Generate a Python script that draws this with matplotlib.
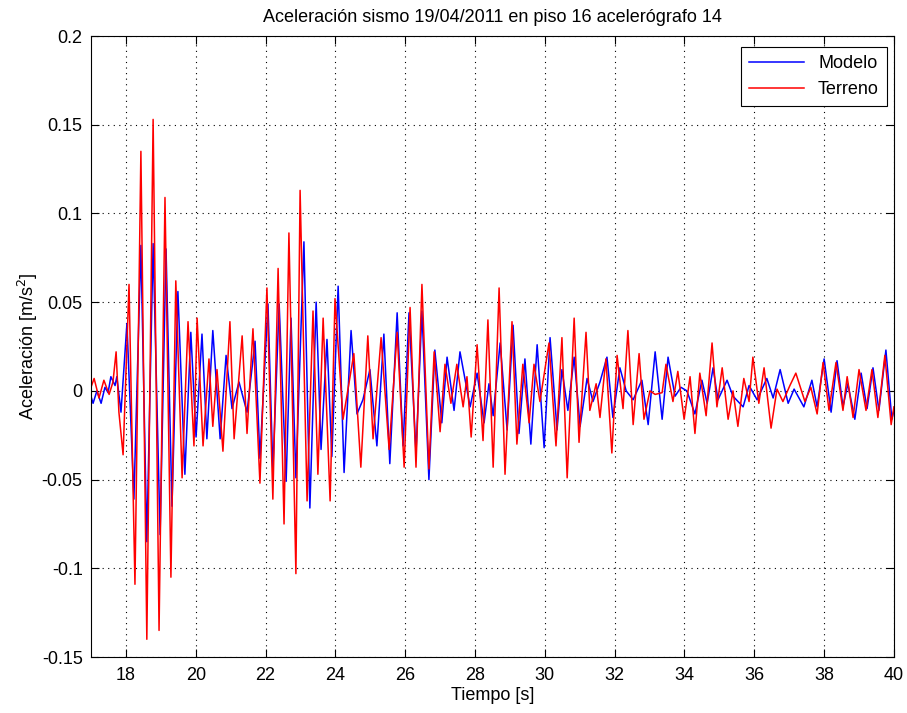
# Aceleración sismo 19/04/2011 - piso 16, acelerógrafo 14 (modelo vs terreno)

import matplotlib
matplotlib.use("Agg")
import matplotlib.pyplot as plt

# ---- data (peaks / troughs of each record) ----
t_modelo = [
    17.00, 17.06, 17.17, 17.29, 17.40, 17.49, 17.57, 17.69, 17.74, 17.86,
    18.03, 18.23, 18.43, 18.60, 18.78, 18.98, 19.15, 19.32, 19.49, 19.69,
    19.86, 20.01, 20.18, 20.32, 20.49, 20.70, 20.87, 21.04, 21.24, 21.47,
    21.70, 21.84, 22.07, 22.21, 22.39, 22.59, 22.73, 22.87, 23.10, 23.27,
    23.45, 23.59, 23.76, 23.90, 24.08, 24.25, 24.45, 24.62, 24.79, 24.99,
    25.19, 25.39, 25.56, 25.77, 25.94, 26.11, 26.31, 26.48, 26.68, 26.85,
    27.05, 27.20, 27.40, 27.57, 27.86, 28.06, 28.26, 28.40, 28.52, 28.72,
    28.92, 29.09, 29.26, 29.43, 29.60, 29.78, 29.98, 30.15, 30.35, 30.49,
    30.66, 30.84, 31.01, 31.21, 31.38, 31.58, 31.78, 31.95, 32.15, 32.33,
    32.53, 32.78, 32.96, 33.16, 33.36, 33.53, 33.73, 33.90, 34.07, 34.30,
    34.50, 34.65, 34.82, 34.96, 35.22, 35.39, 35.68, 35.85, 36.08, 36.36,
    36.54, 36.74, 36.97, 37.14, 37.28, 37.42, 37.65, 37.80, 38.00, 38.20,
    38.37, 38.54, 38.68, 38.88, 39.06, 39.23, 39.40, 39.57, 39.77, 39.94,
    40.00,
]
a_modelo = [
    -0.003, -0.007, 0.000, -0.007, 0.002, -0.001, 0.008, 0.003, 0.008, -0.012,
    0.038, -0.061, 0.082, -0.085, 0.083, -0.081, 0.080, -0.065, 0.056, -0.047,
    0.033, -0.026, 0.032, -0.027, 0.034, -0.027, 0.020, -0.010, 0.005, -0.012,
    0.028, -0.038, 0.049, -0.045, 0.049, -0.051, 0.041, -0.049, 0.084, -0.066,
    0.050, -0.033, 0.029, -0.037, 0.059, -0.046, 0.034, -0.013, -0.005, 0.012,
    -0.031, 0.032, -0.041, 0.044, -0.031, 0.044, -0.035, 0.045, -0.050, 0.023,
    -0.018, 0.019, -0.011, 0.022, -0.009, 0.010, -0.018, 0.004, -0.014, 0.027,
    -0.022, 0.037, -0.024, 0.018, -0.030, 0.026, -0.032, 0.030, -0.022, 0.012,
    -0.011, 0.019, -0.020, 0.007, -0.006, 0.005, 0.019, -0.015, 0.013, 0.000,
    -0.005, 0.006, -0.019, 0.022, -0.016, 0.019, -0.003, 0.002, 0.000, -0.013,
    0.006, -0.007, 0.013, -0.005, 0.006, -0.003, -0.009, 0.003, -0.005, 0.007,
    -0.004, 0.012, -0.007, 0.001, -0.004, -0.009, 0.006, -0.009, 0.018, -0.012,
    0.017, -0.009, 0.004, -0.016, 0.010, -0.010, 0.013, -0.011, 0.023, -0.016,
    -0.011,
]

t_terreno = [
    17.00, 17.09, 17.23, 17.37, 17.52, 17.63, 17.72, 17.80, 17.92, 18.09,
    18.26, 18.43, 18.60, 18.78, 18.95, 19.12, 19.29, 19.43, 19.61, 19.78,
    19.95, 20.04, 20.21, 20.38, 20.49, 20.61, 20.78, 20.98, 21.10, 21.33,
    21.47, 21.64, 21.84, 22.04, 22.21, 22.36, 22.53, 22.67, 22.87, 22.99,
    23.19, 23.36, 23.50, 23.65, 23.85, 23.99, 24.22, 24.53, 24.73, 24.93,
    25.08, 25.31, 25.54, 25.77, 25.97, 26.14, 26.31, 26.48, 26.68, 26.83,
    27.00, 27.14, 27.31, 27.48, 27.66, 27.77, 27.89, 28.06, 28.23, 28.37,
    28.52, 28.69, 28.86, 29.06, 29.20, 29.37, 29.55, 29.69, 29.86, 30.12,
    30.32, 30.49, 30.64, 30.84, 30.98, 31.18, 31.29, 31.47, 31.58, 31.75,
    31.92, 32.07, 32.24, 32.38, 32.53, 32.70, 32.84, 33.01, 33.16, 33.36,
    33.47, 33.67, 33.81, 33.99, 34.16, 34.30, 34.44, 34.62, 34.79, 34.93,
    35.08, 35.25, 35.39, 35.53, 35.70, 35.85, 35.96, 36.13, 36.28, 36.48,
    36.65, 36.82, 37.02, 37.19, 37.45, 37.62, 37.80, 37.97, 38.14, 38.34,
    38.54, 38.66, 38.83, 39.00, 39.20, 39.37, 39.54, 39.74, 39.92, 40.00,
]
a_terreno = [
    0.002, 0.007, -0.004, 0.006, -0.002, 0.005, 0.022, -0.012, -0.036, 0.060,
    -0.109, 0.135, -0.140, 0.153, -0.135, 0.109, -0.105, 0.062, -0.049, 0.039,
    -0.031, 0.041, -0.031, 0.018, -0.020, 0.012, -0.034, 0.039, -0.027, 0.031,
    -0.024, 0.035, -0.052, 0.058, -0.061, 0.069, -0.075, 0.089, -0.103, 0.113,
    -0.062, 0.045, -0.047, 0.041, -0.062, 0.052, -0.016, 0.021, -0.043, 0.031,
    -0.027, 0.030, -0.033, 0.033, -0.043, 0.047, -0.043, 0.060, -0.044, 0.022,
    -0.023, 0.015, -0.007, 0.015, -0.009, 0.008, -0.026, 0.026, -0.028, 0.040,
    -0.043, 0.058, -0.047, 0.039, -0.030, 0.015, -0.018, 0.015, -0.006, 0.027,
    -0.031, 0.030, -0.049, 0.041, -0.029, 0.033, -0.011, 0.004, -0.015, 0.018,
    -0.035, 0.020, -0.010, 0.034, -0.019, 0.021, -0.016, 0.000, -0.002, -0.001,
    0.015, -0.006, 0.011, -0.016, 0.008, -0.024, 0.010, -0.014, 0.027, -0.009,
    0.013, -0.016, 0.000, -0.020, 0.007, -0.006, 0.019, -0.007, 0.013, -0.021,
    0.001, -0.006, 0.003, 0.010, -0.006, 0.002, -0.013, 0.016, -0.011, 0.016,
    -0.011, 0.008, -0.015, 0.012, -0.011, 0.012, -0.015, 0.020, -0.019, -0.009,
]

x_ticks = [18, 20, 22, 24, 26, 28, 30, 32, 34, 36, 38, 40]
y_ticks = [-0.15, -0.1, -0.05, 0, 0.05, 0.1, 0.15, 0.2]
y_tick_labels = ["-0.15", "-0.1", "-0.05", "0", "0.05", "0.1", "0.15", "0.2"]
# ----------------------------------------------------------------------

FS = 13

plt.rcParams["font.family"] = ["Liberation Sans", "DejaVu Sans"]
plt.rcParams["font.size"] = FS

fig = plt.figure(figsize=(9.07, 7.13), dpi=100)
ax = fig.add_axes([0.1003, 0.0785, 0.8853, 0.871])

ax.plot(t_modelo, a_modelo, color="#0000ff", lw=1.1, label="Modelo")
ax.plot(t_terreno, a_terreno, color="#ff0000", lw=1.1, label="Terreno")

ax.set_xlim(17, 40)
ax.set_ylim(-0.15, 0.2)
ax.set_xticks(x_ticks)
ax.set_yticks(y_ticks)
ax.set_yticklabels(y_tick_labels)
ax.tick_params(direction="in", top=True, right=True, length=6, width=0.8,
               labelsize=FS)
ax.tick_params(axis="x", pad=7)
ax.tick_params(axis="y", pad=6)

ax.grid(True, color="black", linestyle=(0, (1, 4)), linewidth=0.8)
for s in ax.spines.values():
    s.set_linewidth(0.8)

ax.set_title("Aceleración sismo 19/04/2011 en piso 16 acelerógrafo 14",
             fontsize=FS, pad=10)
ax.set_xlabel("Tiempo [s]", fontsize=FS, labelpad=2)
ax.set_ylabel("Aceleración [m/s$^2$]", fontsize=FS, labelpad=1)

leg = ax.legend(loc="upper right", fancybox=False, framealpha=1,
                edgecolor="black", handlelength=3.0, fontsize=FS,
                borderaxespad=0, borderpad=0.45, labelspacing=0.5,
                bbox_to_anchor=(887 / 907, 1 - 47 / 713),
                bbox_transform=fig.transFigure)
leg.get_frame().set_linewidth(0.8)

fig.savefig("out.png", dpi=100)
